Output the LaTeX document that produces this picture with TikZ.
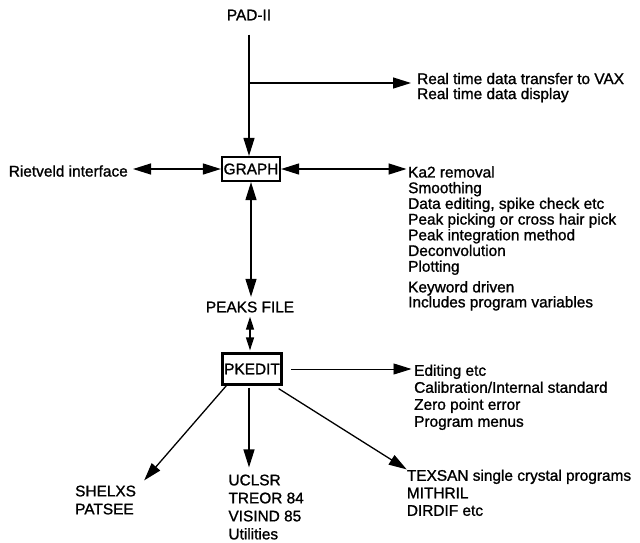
\documentclass[tikz,border=0pt]{standalone}
\usepackage{fontspec}
\setmainfont[FakeBold=1.2]{Liberation Sans}
\usetikzlibrary{arrows.meta,calc}
\begin{document}
\begin{tikzpicture}[x=1pt,y=-1pt,
  font=\fontsize{15.4}{15.7}\selectfont,
  txt/.style={inner sep=0pt, align=left},
  boxnode/.style={draw, line width=2.2pt, inner sep=0pt, minimum width=58pt, minimum height=24pt},
  con/.style={line width=1.3pt},
  tip/.style={-{Triangle[length=18pt,width=11pt]}},
  both/.style={{Triangle[length=18pt,width=11pt]}-{Triangle[length=18pt,width=11pt]}},
  bothsmall/.style={{Triangle[length=13pt,width=8pt]}-{Triangle[length=13pt,width=8pt]}}]
\useasboundingbox (0,0) rectangle (640,542);

% nodes
\node[txt] (pad) at (249,15) {PAD-II};
\node[boxnode] (graph) at (251,169) {GRAPH};
\node[txt] (peaks) at (250,307) {PEAKS FILE};
\node[boxnode, minimum width=59pt, minimum height=31pt] (pk) at (252,369) {PKEDIT};
\node[txt, anchor=east] (riet) at (128,171) {Rietveld interface};

\node[txt, anchor=north west, font=\fontsize{15.4}{15}\selectfont] (rt) at (417,72.7)
  {Real time data transfer to VAX\\Real time data display};
\node[txt, anchor=north west] (gl) at (408,166.1)
  {Ka2 removal\\Smoothing\\Data editing, spike check etc\\Peak picking or cross hair pick\\Peak integration method\\Deconvolution\\Plotting};
\node[txt, anchor=north west, font=\fontsize{15.4}{15}\selectfont] (kw) at (408,281)
  {Keyword driven\\Includes program variables};
\node[txt, anchor=north west, font=\fontsize{15.4}{17}\selectfont] (ed) at (414,364.4)
  {Editing etc\\Calibration/Internal standard\\Zero point error\\Program menus};
\node[txt, anchor=north west, font=\fontsize{15.4}{18}\selectfont] (sh) at (75,485.4)
  {SHELXS\\PATSEE};
\node[txt, anchor=north west, font=\fontsize{15.4}{18}\selectfont] (uc) at (228.3,474.4)
  {UCLSR\\TREOR 84\\VISIND 85\\Utilities};
\node[txt, anchor=north west, font=\fontsize{15.4}{17.5}\selectfont] (tx) at (406.7,469.4)
  {TEXSAN single crystal programs\\MITHRIL\\DIRDIF etc};

\coordinate (br) at (249,83);

% connectors
\draw[con,tip,shorten <=14pt] (pad.south) -- (pad.south |- graph.north);
\draw[con,tip,shorten >=6pt] (br) -- (br -| rt.west);
\draw[con,both,shorten <=5pt] (graph.west -| riet.east) -- (graph.west);
\draw[con,both,shorten >=1.5pt] (graph.east) -- (graph.east -| gl.west);
\draw[con,both,shorten >=4.5pt] (graph.south) -- (graph.south |- peaks.north);
\draw[con,bothsmall,shorten <=4pt,shorten >=2pt] (peaks.south) -- (peaks.south |- pk.north);
\draw[line width=0.9pt,tip,shorten <=8.5pt,shorten >=2.5pt] (pk.east) -- (pk.east -| ed.west);
\draw[con,tip] ($(pk.south west)+(5,0)$) -- ($(sh.north east)+(8,-5)$);
\draw[con,tip,shorten <=2pt,shorten >=7pt] (pk.south -| 249,0) -- (uc.north -| 249,0);
\draw[con,tip] ($(pk.south east)+(-4,3)$) -- (tx.north west);
\end{tikzpicture}
\end{document}
